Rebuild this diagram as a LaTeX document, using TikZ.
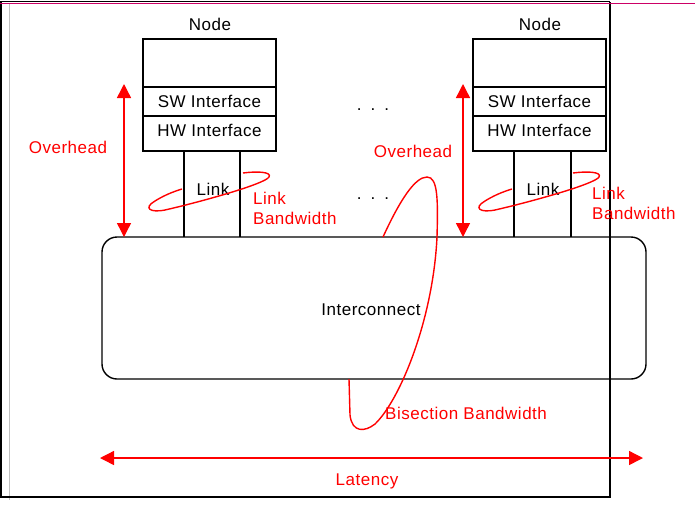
\documentclass[tikz,border=0pt]{standalone}
\usepackage{fontspec}
\setmainfont{Liberation Sans}[LetterSpace=3]
\usetikzlibrary{arrows.meta}
\definecolor{myred}{RGB}{255,0,0}
\definecolor{mag}{RGB}{204,0,102}
\definecolor{lgray}{RGB}{192,192,192}
\begin{document}
\begin{tikzpicture}[x=1pt,y=-1pt,font=\fontsize{17}{20}\selectfont]
\tikzset{
  cell/.style={draw, line width=1.1pt, minimum width=133pt, inner sep=0pt, outer sep=0pt, anchor=north west},
  redtxt/.style={text=myred, inner sep=0pt},
  redline/.style={draw=myred, line width=1.4pt},
  dblarrow/.style={redline, {Triangle[length=14pt,width=14pt]}-{Triangle[length=14pt,width=14pt]}},
  linkline/.style={draw, line width=1.1pt},
  dots/.style={inner sep=0pt}
}
\useasboundingbox (0,0) rectangle (695,512);
\fill[white] (0,0) rectangle (695,512);
% frame
\draw[lgray, line width=1.2pt] (9.5,3) -- (9.5,500);
\draw[black, line width=2pt] (1,2) -- (1,497) -- (610,497) -- (610,2);
\draw[black, line width=1pt] (0,1.5) -- (610,1.5);
\draw[mag, line width=1.5pt] (0,3.5) -- (695,3.5);

% interconnect
\node[draw, line width=1.4pt, rounded corners=15pt, minimum width=544pt, minimum height=142pt, anchor=north west, inner sep=0pt, outer sep=0pt] (ic) at (102,237) {};
\node (ictext) at (371,310) {Interconnect};

% left node
\node (n1) at (210,24) {Node};
\node[cell, minimum height=48pt] (top1) at (143,39) {};
\node[cell, minimum height=29pt] (sw1) at (143,87) {SW Interface};
\node[cell, minimum height=35pt, text depth=6pt] (hw1) at (143,116) {HW Interface};
\coordinate (l1a) at (184,151);
\coordinate (l1b) at (240,151);
\draw[linkline] (l1a) -- (l1a |- ic.north);
\draw[linkline] (l1b) -- (l1b |- ic.north);
\node (lk1) at (213,189) {Link};

% right node
\node (n2) at (540,24) {Node};
\node[cell, minimum height=48pt] (top2) at (473,39) {};
\node[cell, minimum height=29pt] (sw2) at (473,87) {SW Interface};
\node[cell, minimum height=35pt, text depth=6pt] (hw2) at (473,116) {HW Interface};
\coordinate (l2a) at (514,151);
\coordinate (l2b) at (571,151);
\draw[linkline] (l2a) -- (l2a |- ic.north);
\draw[linkline] (l2b) -- (l2b |- ic.north);
\node (lk2) at (543,189) {Link};

% dots
\node[dots] (d1) at (373,110) {.\hspace{9pt}.\hspace{9pt}.};
\node[dots] (d2) at (373,199) {.\hspace{9pt}.\hspace{9pt}.};

% overhead arrows
\coordinate (oa1) at (124,84);
\coordinate (oa2) at (463,84);
\draw[dblarrow] (oa1) -- (oa1 |- ic.north);
\draw[dblarrow] (oa2) -- (oa2 |- ic.north);
\node[redtxt] (ov1) at (68,147) {Overhead};
\node[redtxt] (ov2) at (413,151) {Overhead};

% link bandwidth loops
\draw[redline] (243,173) .. controls (258,171) and (272,172) .. (269,177) .. controls (265,184) and (200,202) .. (165,210) .. controls (150,213) and (143,208) .. (155,201) .. controls (163,196) and (172,192) .. (182,189);
\begin{scope}[xshift=330pt]
\draw[redline] (243,173) .. controls (258,171) and (272,172) .. (269,177) .. controls (265,184) and (200,202) .. (165,210) .. controls (150,213) and (143,208) .. (155,201) .. controls (163,196) and (172,192) .. (182,189);
\end{scope}
\node[redtxt, anchor=west, align=left] (lbw1) at (253,208) {Link\\Bandwidth};
\node[redtxt, anchor=west, align=left] (lbw2) at (592,203) {Link\\Bandwidth};

% bisection
\draw[redline] (383,237) .. controls (400,200) and (415,177) .. (427,177) .. controls (438,177) and (438,200) .. (437,237) .. controls (433,320) and (400,400) .. (375,424) .. controls (365,432) and (352,433) .. (350,415) -- (349,379);
\node[redtxt, anchor=west] (bis) at (385,413) {Bisection Bandwidth};

% latency
\coordinate (la) at (100,458);
\coordinate (lb) at (643,458);
\draw[dblarrow] (la) -- (lb);
\node[redtxt] (lat) at (367,481) {Latency};
\end{tikzpicture}
\end{document}
